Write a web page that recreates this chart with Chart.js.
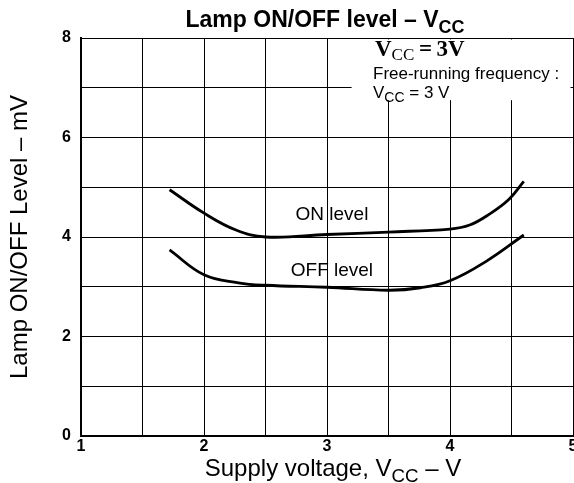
<!DOCTYPE html>
<html>
<head>
<meta charset="utf-8">
<script src="https://cdn.jsdelivr.net/npm/chart.js@4.4.1/dist/chart.umd.min.js"></script>
<style>
  html, body { margin: 0; padding: 0; background: #fff; }
  #wrap { width: 574px; height: 483px; }
</style>
</head>
<body>
<div id="wrap"><canvas id="lampChart" width="574" height="483"></canvas></div>
<script>
'use strict';

// ***** DATA *****
const onVcc = [1.72, 2.0, 2.26, 2.5, 3.0, 3.5, 4.0, 4.16, 4.32, 4.48, 4.6];
const onLevel = [4.95, 4.48, 4.14, 4.0, 4.05, 4.1, 4.16, 4.24, 4.46, 4.76, 5.12];
const offVcc = [1.72, 2.0, 2.28, 2.5, 3.0, 3.5, 3.76, 4.0, 4.3, 4.6];
const offLevel = [3.74, 3.24, 3.08, 3.03, 2.99, 2.93, 2.98, 3.12, 3.52, 4.04];
const xTickLabels = ['1', '2', '3', '4', '5'];
const yTickLabels = ['0', '2', '4', '6', '8'];

const sans = '"Liberation Sans", Arial, sans-serif';
const serif = '"Liberation Serif", "Times New Roman", serif';

function toPoints(xs, ys) {
  return xs.map((x, i) => ({ x: x, y: ys[i] }));
}

// draws text made of normal and subscript parts, centred on cx
function drawParts(ctx, parts, cx, y, size, weight) {
  let total = 0;
  parts.forEach(p => {
    ctx.font = `${weight} ${p.sub ? size * 0.78 : size}px ${sans}`;
    p.w = ctx.measureText(p.t).width;
    total += p.w;
  });
  let x = cx - total / 2;
  ctx.textAlign = 'left';
  ctx.textBaseline = 'alphabetic';
  parts.forEach(p => {
    ctx.font = `${weight} ${p.sub ? size * 0.78 : size}px ${sans}`;
    ctx.fillText(p.t, x, p.sub ? y + size * 0.25 : y);
    x += p.w;
  });
}

// **** PLUGINS ****
const boxPlugin = {
  id: 'box',
  beforeDatasetsDraw(chart) {
    const { ctx, scales } = chart;
    const x0 = scales.x.getPixelForValue(3.2);
    const x1 = scales.x.getPixelForValue(4.98);
    const y0 = scales.y.getPixelForValue(7.97);
    const y1 = scales.y.getPixelForValue(6.75);
    ctx.save();
    ctx.fillStyle = '#fff';
    ctx.fillRect(x0, y0, x1 - x0, y1 - y0);
    ctx.restore();
  }
};

const textPlugin = {
  id: 'texts',
  afterDraw(chart) {
    const { ctx, chartArea, scales } = chart;
    ctx.save();
    ctx.fillStyle = '#000';
    const mid = (chartArea.left + chartArea.right) / 2;
    drawParts(ctx, [{ t: 'Lamp ON/OFF level – V' }, { t: 'CC', sub: true }], mid - 2, 27, 23, 'bold');
    drawParts(ctx, [{ t: 'Supply voltage, V' }, { t: 'CC', sub: true }, { t: ' – V' }], mid + 6, 476, 24, 'normal');

    // note box
    const nx = 375;
    ctx.textAlign = 'left';
    ctx.textBaseline = 'alphabetic';
    ctx.font = `bold 23px ${serif}`;
    ctx.fillText('V', nx, 56);
    let w = ctx.measureText('V').width;
    ctx.font = `17px ${serif}`;
    ctx.fillText('CC', nx + w, 60);
    w += ctx.measureText('CC').width;
    ctx.font = `bold 23px ${serif}`;
    ctx.fillText('\u2009=\u20093V', nx + w, 56);

    const fx = 373;
    ctx.font = `17px ${sans}`;
    ctx.fillText('Free-running frequency :', fx, 79);
    ctx.fillText('V', fx, 98);
    w = ctx.measureText('V').width;
    ctx.font = `14px ${sans}`;
    ctx.fillText('CC', fx + w, 102);
    w += ctx.measureText('CC').width;
    ctx.font = `17px ${sans}`;
    ctx.fillText(' = 3 V', fx + w, 98);

    // curve labels
    ctx.textAlign = 'center';
    ctx.textBaseline = 'middle';
    ctx.font = `19px ${sans}`;
    ctx.fillText('ON level', scales.x.getPixelForValue(3.04), scales.y.getPixelForValue(4.44));
    ctx.fillText('OFF level', scales.x.getPixelForValue(3.04), scales.y.getPixelForValue(3.33));
    ctx.restore();
  }
};

// **** CHART ****
let ctx = document.getElementById('lampChart').getContext('2d');

let chartObject = {
  type: 'line',
  data: {
    datasets: [{
      label: 'ON level',
      data: toPoints(onVcc, onLevel),
      borderColor: '#000',
      borderWidth: 2.8,
      pointRadius: 0,
      tension: 0.4,
      fill: false
    },
    {
      label: 'OFF level',
      data: toPoints(offVcc, offLevel),
      borderColor: '#000',
      borderWidth: 2.8,
      pointRadius: 0,
      tension: 0.4,
      fill: false
    }]
  },
  options: {
    responsive: false,
    animation: false,
    layout: { padding: { top: 38, right: 1, left: 0, bottom: 0 } },
    plugins: {
      legend: { display: false },
      title: { display: false },
      tooltip: { enabled: false }
    },
    scales: {
      x: {
        type: 'linear',
        min: 1,
        max: 5,
        afterFit(scale) {
          scale.height = 47;
          scale.paddingLeft = 0;
          scale.paddingRight = 0;
        },
        ticks: {
          stepSize: 0.5,
          autoSkip: false,
          maxRotation: 0,
          padding: 1,
          color: '#000',
          font: { family: sans, size: 16, weight: 'bold' },
          callback: v => (Number.isInteger(v) ? xTickLabels[v - 1] : '')
        },
        grid: { color: '#000', lineWidth: 1, drawTicks: false },
        border: { color: '#000', width: 2 }
      },
      y: {
        min: 0,
        max: 8,
        afterFit(scale) {
          scale.width = 81;
        },
        ticks: {
          stepSize: 1,
          padding: 10,
          color: '#000',
          font: { family: sans, size: 16, weight: 'bold' },
          callback: v => (v % 2 === 0 ? yTickLabels[v / 2] : '')
        },
        grid: { color: '#000', lineWidth: 1, drawTicks: false },
        border: { color: '#000', width: 2 },
        title: {
          display: true,
          text: 'Lamp ON/OFF Level – mV',
          color: '#000',
          padding: { top: 6, bottom: 0 },
          font: { family: sans, size: 24 }
        }
      }
    }
  },
  plugins: [boxPlugin, textPlugin]
};

new Chart(ctx, chartObject);
</script>
</body>
</html>
